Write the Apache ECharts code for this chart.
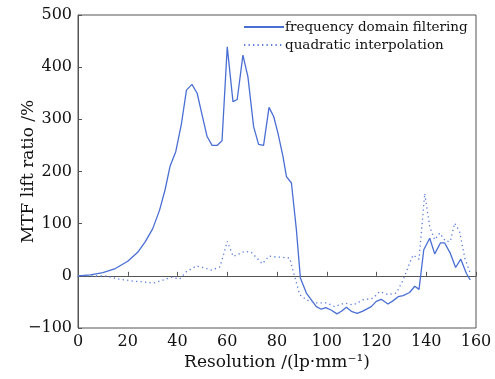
<!DOCTYPE html>
<html>
<head>
<meta charset="utf-8">
<script src="https://cdn.jsdelivr.net/npm/echarts@6/dist/echarts.min.js"></script>
<style>
  html, body { margin: 0; padding: 0; background: #fff; }
  #chart { width: 495px; height: 379px; }
</style>
</head>
<body>
<div id="chart"></div>
<script>
// x: resolution (lp/mm), y: MTF lift ratio (%)
var filteringData = [
  [0, 0], [5, 2], [10, 6], [15, 14], [20, 28], [24, 45], [27, 65], [30, 90],
  [32.8, 126], [35, 165], [37, 210], [39.3, 238], [41.6, 292], [43.6, 356],
  [45.8, 367], [47.9, 350], [49.9, 308], [51.9, 267], [53.9, 250], [55.9, 250],
  [57.9, 259], [60, 439], [62.3, 334], [64, 338], [66.3, 423], [68.3, 382],
  [70.6, 286], [72.6, 252], [74.6, 250], [76.8, 323], [78.7, 305], [80.4, 273],
  [82.4, 229], [83.8, 190], [85.8, 178], [87.8, 88], [89.4, -4], [91.8, -33],
  [95.8, -59], [97.8, -64], [99.6, -61], [101.9, -66], [104.1, -73], [105.9, -68],
  [107.9, -60], [109.9, -68], [112.2, -72], [114.3, -68], [117.9, -59], [119.9, -49],
  [121.9, -45], [124.6, -54], [126.6, -48], [128.7, -40], [130.7, -38], [133.3, -32],
  [135.4, -20], [137.1, -26], [139, 50], [141.4, 72], [143.4, 42], [145.7, 63],
  [147.4, 63], [149.7, 43], [151.8, 16], [153.9, 32], [156.1, 5], [157.7, -8]
];

var interpData = [
  [0, 0], [5, 0], [10.7, 0], [16.1, -6], [22.1, -10], [26.8, -12], [30.2, -14],
  [34.2, -8], [37.5, -3], [40.9, -6], [43.6, 8], [47.6, 19], [50.9, 15], [53.6, 11],
  [57, 17], [58.3, 37], [60, 66], [62.4, 37], [67, 47], [69.7, 45], [74.1, 23],
  [76.8, 38], [79.8, 36], [81.1, 36], [85.1, 34], [87.1, -1], [89.1, -36], [91.8, -46],
  [95.8, -52], [99.9, -52], [103.2, -59], [107.2, -52], [110.6, -56], [114.6, -46],
  [118.6, -43], [121.3, -30], [124.6, -36], [128, -33], [130.7, -8], [133.3, 24],
  [134.7, 40], [137.1, 32], [139.4, 158], [141.4, 94], [143.4, 69], [145.4, 82],
  [147.8, 66], [149.7, 66], [151.4, 101], [153.4, 85], [155.5, 34], [157.7, 5]
];

var seriesNames = ['frequency domain filtering', 'quadratic interpolation'];

var serif = 'DejaVu Serif';
var axisColor = '#555';

// real minus sign like the original figure
function minusFmt(v) {
    return String(v).replace('-', '\u2212');
}

var chart = echarts.init(document.getElementById('chart'));

var option = {
    backgroundColor: '#fff',
    animation: false,
    grid: {
        left: 78, right: 19, top: 15, bottom: 51,
        outerBoundsMode: 'none',
        show: true,
        borderColor: axisColor,
        borderWidth: 1
    },
    legend: {
        left: 238, top: 15,
        orient: 'vertical',
        itemWidth: 40, itemHeight: 12, itemGap: 4,
        itemStyle: {opacity: 0},
        textStyle: {fontFamily: serif, fontSize: 13.5, color: '#111', padding: [0, 0, 0, -4]},
        data: seriesNames
    },
    xAxis: {
        type: 'value',
        min: 0, max: 160, interval: 20,
        name: 'Resolution /(lp\u00b7mm\u207b\u00b9)',
        nameLocation: 'middle',
        nameMoveOverlap: false,
        nameGap: 26,
        nameTextStyle: {fontFamily: serif, fontSize: 17, color: '#111'},
        axisLine: {lineStyle: {color: axisColor}},
        axisTick: {inside: true, length: 4, lineStyle: {color: axisColor}},
        axisLabel: {fontFamily: serif, fontSize: 16, color: '#111', margin: 6},
        splitLine: {show: false}
    },
    yAxis: {
        type: 'value',
        min: -100, max: 500, interval: 100,
        name: 'MTF lift ratio /%',
        nameLocation: 'middle',
        nameMoveOverlap: false,
        nameGap: 41,
        nameTextStyle: {fontFamily: serif, fontSize: 17, color: '#111'},
        axisLine: {show: true, lineStyle: {color: axisColor}},
        axisTick: {show: true, inside: true, length: 4, lineStyle: {color: axisColor}},
        axisLabel: {fontFamily: serif, fontSize: 16, color: '#111', margin: 6, formatter: minusFmt},
        splitLine: {show: false}
    },
    series: [{
        name: seriesNames[0],
        type: 'line',
        symbol: 'none',
        data: filteringData,
        lineStyle: {color: '#4a6fd4', width: 1.3},
        itemStyle: {color: '#4a6fd4'}
    }, {
        name: seriesNames[1],
        type: 'line',
        symbol: 'none',
        data: interpData,
        lineStyle: {color: '#5a7ee0', width: 1.3, type: [1.3, 3.2]},
        itemStyle: {color: '#5a7ee0'}
    }]
};

chart.setOption(option);
</script>
</body>
</html>
